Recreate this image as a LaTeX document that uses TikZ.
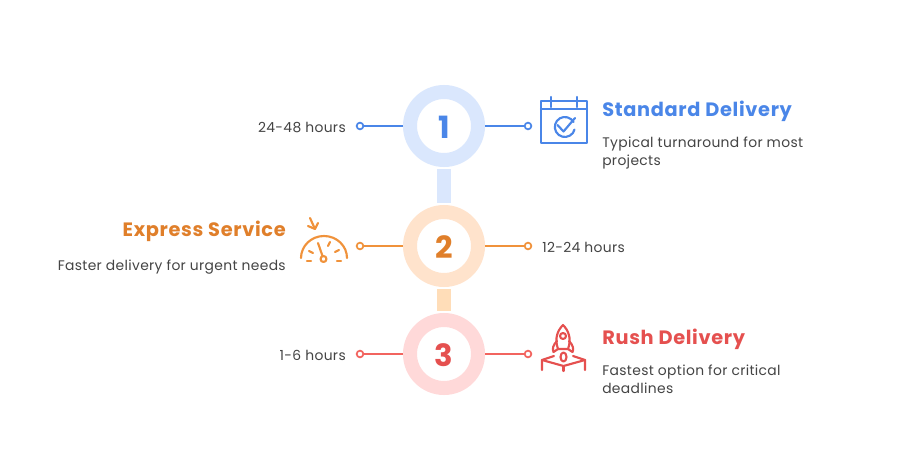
\documentclass[tikz,border=0pt]{standalone}
\usepackage{fontspec}
\setmainfont{Poppins}
\definecolor{blueline}{HTML}{4A86E8}
\definecolor{bluering}{HTML}{DAE7FD}
\definecolor{orangeline}{HTML}{F0923B}
\definecolor{orangetext}{HTML}{E07F2A}
\definecolor{orangering}{HTML}{FFE3CC}
\definecolor{orangebar}{HTML}{FFDDB8}
\definecolor{redline}{HTML}{F2645F}
\definecolor{redtext}{HTML}{E5504F}
\definecolor{redring}{HTML}{FFD9D9}
\definecolor{greytext}{HTML}{444444}
\newcommand{\ringnum}[1]{\raisebox{-1.5pt}[16pt][0pt]{#1}}
\tikzset{
	ring/.style={circle,draw=#1,line width=10.5pt,minimum size=51pt,inner sep=0pt,font=\fontsize{23}{23}\selectfont\bfseries},
	dot/.style={circle,draw=#1,fill=white,line width=1.3pt,minimum size=5pt,inner sep=0pt},
	bar/.style={draw=#1,line width=10.5pt,shorten >=1.5pt,shorten <=1.5pt},
	arm/.style={draw=#1,line width=1.5pt},
	icon/.style={draw=#1,line width=1.6pt,line cap=round,line join=round},
	note/.style={text=greytext,font=\fontsize{10.4}{13.5}\selectfont\addfontfeature{LetterSpace=2.5},inner sep=0pt},
	head/.style={font=\fontsize{14.5}{15}\selectfont\bfseries\addfontfeature{LetterSpace=3.5},inner sep=0pt}
}
\begin{document}
\begin{tikzpicture}[x=0.75pt,y=0.75pt]
	\useasboundingbox (0,0) rectangle (912,-456);
	\fill [white] (0,0) rectangle (912,-456);
	\node [ring=bluering,text=blueline] (one) at (444,-126) {\ringnum{1}};
	\node [ring=orangering,text=orangetext] (two) at (444,-246) {\ringnum{2}};
	\node [ring=redring,text=redtext] (three) at (444,-354) {\ringnum{3}};
	\draw [bar=bluering] (one) -- (two);
	\draw [bar=orangebar] (two) -- (three);
	% side dots
	\node [dot=blueline] (oneleft) at (360,-126) {};
	\node [dot=blueline] (oneright) at (528,-126) {};
	\node [dot=orangeline] (twoleft) at (360,-246) {};
	\node [dot=orangeline] (tworight) at (528,-246) {};
	\node [dot=redline] (threeleft) at (360,-354) {};
	\node [dot=redline] (threeright) at (528,-354) {};
	\draw [arm=blueline] (one) -- (oneleft);
	\draw [arm=blueline] (one) -- (oneright);
	\draw [arm=orangeline] (two) -- (twoleft);
	\draw [arm=orangeline] (two) -- (tworight);
	\draw [arm=redline] (three) -- (threeleft);
	\draw [arm=redline] (three) -- (threeright);
	% labels
	\node [note,anchor=east] (timeone) at (346,-127.5) {24-48 hours};
	\node [note,anchor=west] (timetwo) at (542,-247.5) {12-24 hours};
	\node [note,anchor=east] (timethree) at (346,-355.5) {1-6 hours};
	\node [head,text=blueline,anchor=west] (headone) at (602,-111) {Standard Delivery};
	\node [note,anchor=north west,align=left] (noteone) at (602,-137) {Typical turnaround for most\\projects};
	\node [head,text=orangetext,anchor=east] (headtwo) at (286,-231) {Express Service};
	\node [note,anchor=east] (notetwo) at (286,-267) {Faster delivery for urgent needs};
	\node [head,text=redtext,anchor=west] (headthree) at (602,-339) {Rush Delivery};
	\node [note,anchor=north west,align=left] (notethree) at (602,-365) {Fastest option for critical\\deadlines};
	% calendar
	\draw [icon=blueline] (541,-101) rectangle (587,-143);
	\draw [icon=blueline] (541,-109) -- (587,-109);
	\draw [icon=blueline] (551,-97) -- (551,-107);
	\draw [icon=blueline] (577,-97) -- (577,-107);
	\draw [icon=blueline] (573.5,-122) arc (30:345:10);
	\draw [icon=blueline] (557.5,-125) -- (563.5,-131.5) -- (575,-118);
	% gauge
	\draw [icon=orangeline] (301,-258) arc (180:0:23 and 22);
	\draw [icon=orangeline] (323.5,-259) circle (3);
	\draw [icon=orangeline] (322.5,-256) -- (318,-243);
	\draw [icon=orangeline] (309,-251) -- (313,-253);
	\draw [icon=orangeline] (328,-246) -- (330,-242);
	\draw [icon=orangeline] (335,-252) -- (339,-250);
	\draw [icon=orangeline] (307,-261) -- (311,-261);
	\draw [icon=orangeline] (337,-261) -- (341,-261);
	\draw [icon=orangeline] (310,-218) -- (315,-229);
	\draw [icon=orangeline] (308,-226) -- (315,-229) -- (318,-223);
	% rocket
	\draw [icon=redtext] (558,-349) .. controls (554,-338) and (558,-330) .. (563,-325) .. controls (568,-330) and (572,-338) .. (568,-349) -- cycle;
	\draw [icon=redtext] (563,-336) circle (3);
	\draw [icon=redtext] (557,-341) .. controls (553,-345) and (552,-349) .. (553.5,-352) -- (558,-349);
	\draw [icon=redtext] (569,-341) .. controls (573,-345) and (574,-349) .. (572.5,-352) -- (568,-349);
	\draw [icon=redtext] (563.5,-357) ellipse (3 and 4.5);
	\draw [icon=redtext] (542,-370) -- (542,-360) -- (554,-356);
	\draw [icon=redtext] (585,-370) -- (585,-360) -- (573,-356);
	\draw [icon=redtext] (542,-360) -- (563.5,-366) -- (585,-360);
	\draw [icon=redtext] (563.5,-366) -- (563.5,-371);
\end{tikzpicture}
\end{document}
